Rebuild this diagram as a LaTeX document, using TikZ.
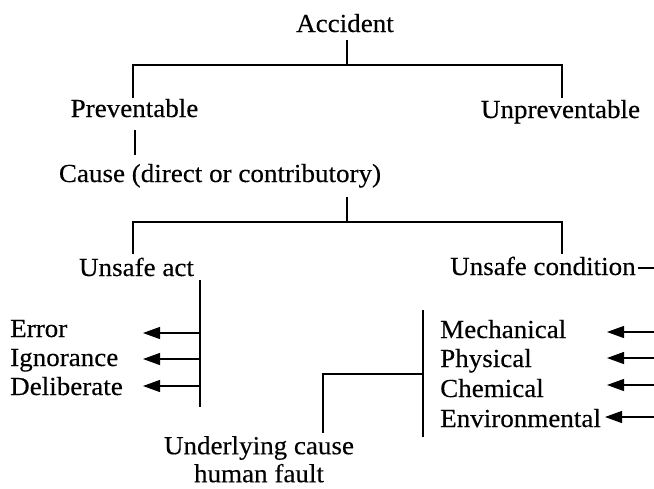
\documentclass[tikz,border=0pt]{standalone}
\usepackage{fontspec}
\setmainfont{Liberation Serif}[FakeStretch=1.04,FakeBold=0.3]
\usetikzlibrary{arrows.meta}
\begin{document}
\begin{tikzpicture}[x=1pt,y=-1pt,
  lbl/.style={inner sep=0pt, font=\fontsize{26}{28}\selectfont, anchor=base},
  lblw/.style={lbl, anchor=base west},
  link/.style={line width=1.2pt},
  pointer/.style={line width=1.2pt, -{Triangle[length=17pt,width=12pt]}}]
\useasboundingbox (0,0) rectangle (654,488);

% --- labels of the tree ---
\node[lbl] (acc)    at (345,32)  {Accident};
\node[lbl] (prev)   at (134.5,117) {Preventable};
\node[lbl] (unprev) at (560.5,118) {Unpreventable};
\node[lbl] (cause)  at (220,182) {Cause (direct or contributory)};
\node[lbl] (act)    at (136.5,276) {Unsafe act};
\node[lblw] (cond)  at (450,275) {Unsafe condition};

\node[lblw] (err) at (10,337) {Error};
\node[lblw] (ign) at (10,366) {Ignorance};
\node[lblw] (del) at (10,395) {Deliberate};

\node[lblw] (mech) at (440,338) {Mechanical};
\node[lblw] (phys) at (440,367) {Physical};
\node[lblw] (chem) at (440,397) {Chemical};
\node[lblw] (env)  at (440,427) {Environmental};

\node[lbl, anchor=north, align=center] (fault) at (259,436) {Underlying cause\\human fault};

% --- junction points ---
\coordinate (a1) at (347,40);
\coordinate (a2) at (347,65);
\coordinate (pl) at (133,98);
\coordinate (ur) at (562,98);
\coordinate (p1) at (135,130);
\coordinate (p2) at (135,155);
\coordinate (c1) at (347,197);
\coordinate (c2) at (347,222);
\coordinate (al) at (133,254);
\coordinate (cr) at (562,254);
\coordinate (cd0) at (638,268);
\coordinate (cd) at (654,268);

\coordinate (actTop) at (200,280);
\coordinate (actBot) at (200,407);
\coordinate (condTop) at (423,310);
\coordinate (condBot) at (423,437);
\coordinate (bridge) at (423,374);
\coordinate (faultTop) at (323,433);

\coordinate (eErr) at (143,333);
\coordinate (eIgn) at (143,359);
\coordinate (eDel) at (143,386);

\coordinate (rMech) at (654,332);
\coordinate (rPhys) at (654,358);
\coordinate (rChem) at (654,385);
\coordinate (rEnv)  at (654,417);

% --- tree lines ---
\draw[link] (a1) -- (a2);
\draw[link] (pl) |- (a2) -| (ur);
\draw[link] (p1) -- (p2);
\draw[link] (c1) -- (c2);
\draw[link] (al) |- (c2) -| (cr);
\draw[link] (cd0) -- (cd);

% --- unsafe act branch ---
\draw[link] (actTop) -- (actBot);
\draw[pointer] (actTop |- eErr) -- (eErr);
\draw[pointer] (actTop |- eIgn) -- (eIgn);
\draw[pointer] (actTop |- eDel) -- (eDel);

% --- unsafe condition branch ---
\draw[link] (condTop) -- (condBot);
\draw[link] (bridge) -| (faultTop);
\draw[pointer] (rMech) -- (607,332);
\draw[pointer] (rPhys) -- (607,358);
\draw[pointer] (rChem) -- (607,385);
\draw[pointer] (rEnv)  -- (605,417);
\end{tikzpicture}
\end{document}
